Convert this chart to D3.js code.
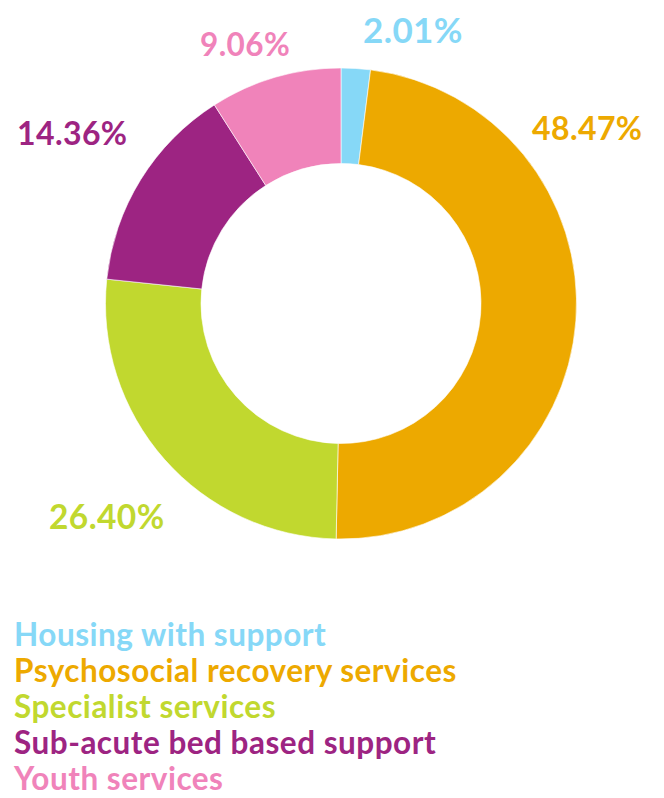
<!DOCTYPE html>
<html><head><meta charset="utf-8">
<script src="https://cdn.jsdelivr.net/npm/d3@7"></script>
<style>body{margin:0;background:#fff}svg{display:block}</style>
</head><body>
<svg id="c" width="664" height="798"></svg>
<script>
const categories = ["Housing with support","Psychosocial recovery services","Specialist services","Sub-acute bed based support","Youth services"];
const values = [2.01, 48.47, 26.40, 14.36, 9.06];
const valueLabels = ["2.01%","48.47%","26.40%","14.36%","9.06%"];
const colors = ["#86D8F7","#EDA900","#C1D82F","#9D2482","#F083BA"];

// label layout: left x, baseline y, font size
const labelPos = [[363,42.5,35],[532,139.5,32],[49,529,33.5],[17,144.5,32],[200,55.5,31.5]];

const svg = d3.select("#c");
const cx = 341, cy = 303.5, R = 235.5, r = 140;
const pie = d3.pie().sort(null).value(d => d)(values);
const arc = d3.arc().innerRadius(r).outerRadius(R);
const g = svg.append("g").attr("transform", `translate(${cx},${cy})`);
g.selectAll("path").data(pie).join("path")
  .attr("d", arc).attr("fill", (d,i) => colors[i])
  .attr("stroke", "#fff").attr("stroke-width", 0.6);

svg.selectAll("text.val").data(valueLabels).join("text")
  .attr("class","val")
  .attr("x",(d,i)=>labelPos[i][0]).attr("y",(d,i)=>labelPos[i][1])
  .attr("fill",(d,i)=>colors[i])
  .style("font-family","Lato, sans-serif").style("font-weight",700)
  .style("font-size",(d,i)=>labelPos[i][2]+"px")
  .style("letter-spacing","0.4px")
  .text(d=>d);

svg.selectAll("text.leg").data(categories).join("text")
  .attr("class","leg")
  .attr("x",14).attr("y",(d,i)=>645.5 + i*36.2)
  .attr("fill",(d,i)=>colors[i])
  .style("font-family","Lato, sans-serif").style("font-weight",700)
  .style("font-size","31.5px")
  .style("letter-spacing","0.5px")
  .text(d=>d);
</script>
</body></html>
